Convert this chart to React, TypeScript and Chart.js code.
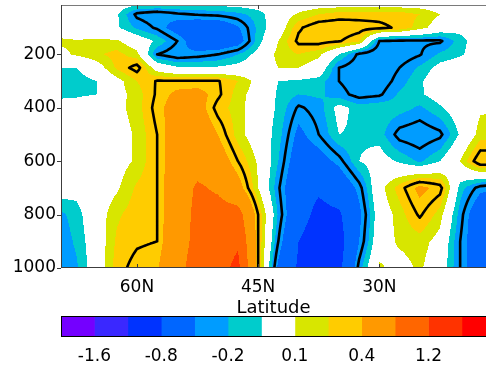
import React, { useEffect, useRef } from "react";
import { Chart, registerables } from "chart.js";

Chart.register(...registerables);

// ---------- DATA ----------
// latitude grid (degrees N), from north (left) to south (right)
const latitudes = [70, 67.5, 65, 62.5, 60, 57.5, 55, 52.5, 50, 47.5, 45, 42.5, 40, 37.5, 35, 32.5, 30, 27.5, 25, 22.5, 20, 17.5, 15];
// pressure levels (hPa)
const pressures = [10, 50, 100, 150, 200, 250, 300, 350, 400, 500, 600, 700, 800, 900, 1000];

// field values along each pressure level (one value per latitude)
const at10 = [0, 0, 0, -0.02, -0.05, -0.06, -0.06, -0.06, -0.05, -0.04, -0.02, 0, 0, 0.02, 0.02, 0.02, 0.02, 0.02, 0.02, 0, 0, 0, 0];
const at50 = [0, 0, 0, -0.08, -0.33, -0.38, -0.32, -0.29, -0.27, -0.23, -0.15, 0, 0.12, 0.2, 0.25, 0.26, 0.26, 0.25, 0.2, 0.1, 0.02, 0, 0];
const at100 = [0, 0, 0, -0.08, -0.22, -0.32, -0.5, -0.58, -0.58, -0.42, -0.17, 0, 0.28, 0.38, 0.38, 0.35, 0.33, 0.28, 0.15, 0.02, -0.05, 0, 0];
const at150 = [0.13, 0.11, 0.12, 0.12, 0, -0.12, -0.3, -0.55, -0.6, -0.5, -0.15, 0.1, 0.33, 0.35, 0.31, 0.22, -0.3, -0.32, -0.32, -0.32, -0.15, 0, 0];
const at200 = [0.05, 0.12, 0.18, 0.24, 0.14, -0.3, -0.38, -0.35, -0.3, -0.2, -0.05, 0.14, 0.2, 0.13, -0.1, -0.33, -0.4, -0.38, -0.31, -0.18, -0.12, -0.02, 0];
const at250 = [-0.1, -0.1, 0.02, 0.22, 0.35, 0.02, -0.08, -0.08, -0.08, -0.05, 0, 0.1, 0.1, 0.02, -0.3, -0.38, -0.4, -0.3, -0.18, -0.05, 0, 0, 0];
const at300 = [-0.15, -0.16, -0.1, 0.05, 0.2, 0.31, 0.31, 0.31, 0.31, 0.2, 0.05, -0.1, -0.12, -0.15, -0.3, -0.38, -0.38, -0.25, -0.12, 0, 0, 0.05, 0.05];
const at350 = [-0.15, -0.13, -0.1, 0.05, 0.15, 0.32, 0.45, 0.48, 0.33, 0.15, 0.03, -0.12, -0.2, -0.18, -0.25, -0.35, -0.32, -0.18, -0.12, -0.03, 0, 0.05, 0.05];
const at400 = [0, 0, 0.05, 0.06, 0.15, 0.35, 0.5, 0.5, 0.25, 0.15, 0, -0.12, -0.32, -0.25, -0.05, -0.15, -0.12, -0.15, -0.22, -0.12, 0, 0.08, 0.1];
const at500 = [0, 0, 0, 0.03, 0.12, 0.3, 0.55, 0.6, 0.4, 0.15, 0, -0.15, -0.45, -0.3, -0.1, -0.12, -0.15, -0.35, -0.39, -0.33, -0.08, 0.15, 0.15];
const at600 = [0, 0, 0, 0.04, 0.12, 0.3, 0.55, 0.65, 0.55, 0.3, 0.08, -0.2, -0.55, -0.5, -0.35, -0.1, -0.03, -0.12, -0.22, -0.1, 0.1, 0.4, 0.4];
const at700 = [0, -0.05, 0, 0.08, 0.22, 0.3, 0.6, 0.85, 0.75, 0.5, 0.1, -0.28, -0.65, -0.75, -0.6, -0.35, 0.05, 0.25, 0.45, 0.35, -0.15, -0.35, -0.4];
const at800 = [-0.25, -0.15, 0.02, 0.18, 0.26, 0.3, 0.6, 0.9, 0.95, 0.95, 0.3, -0.22, -0.65, -0.9, -0.85, -0.45, 0, 0.15, 0.32, 0.15, -0.25, -0.6, -0.65];
const at900 = [-0.29, -0.18, 0, 0.22, 0.28, 0.3, 0.65, 0.9, 1.0, 1.15, 0.3, -0.3, -0.8, -1.0, -0.95, -0.4, 0.03, 0.12, 0.15, 0.05, -0.3, -0.6, -0.65];
const at1000 = [-0.3, -0.22, 0, 0.25, 0.35, 0.38, 0.7, 0.95, 1.05, 1.3, 0.3, -0.45, -0.85, -1.0, -0.9, -0.25, 0.12, 0.05, 0.12, 0, -0.3, -0.6, -0.6];

// contour levels (colour boundaries) and fill colours
const levels = [-1.6, -1.2, -0.8, -0.4, -0.2, -0.1, 0.1, 0.2, 0.4, 0.8, 1.2, 1.6];
const fillColors = ["#7400ff", "#3a28ff", "#0033ff", "#0066ff", "#009cff", "#00cccc", "#ffffff", "#d8e600", "#ffcc00", "#ff9900", "#ff6600", "#ff3300", "#ff0000"];
// black line contours
const lineLevels = [-0.3, 0.3];

// axis ticks
const latTicks = [60, 45, 30];
const pressureTicks = [200, 400, 600, 800, 1000];
// colour bar tick labels (at boundaries index 1,3,5,...)
const colorbarTickIndex = [1, 3, 5, 7, 9, 11];

const field = [at10, at50, at100, at150, at200, at250, at300, at350, at400, at500, at600, at700, at800, at900, at1000];

const FONT = "'DejaVu Sans', 'Liberation Sans', sans-serif";

function hexToRgb(h: string) {
  const n = parseInt(h.slice(1), 16);
  return [(n >> 16) & 255, (n >> 8) & 255, n & 255];
}
const rgbColors = fillColors.map(hexToRgb);

function colorIndex(v: number) {
  let k = 0;
  while (k < levels.length && v >= levels[k]) k++;
  return k;
}

function locateLat(lat: number) {
  let i = 0;
  while (i < latitudes.length - 2 && lat < latitudes[i + 1]) i++;
  let t = (latitudes[i] - lat) / (latitudes[i] - latitudes[i + 1]);
  t = Math.max(0, Math.min(1, t));
  return [i, t];
}
function locateP(p: number) {
  let j = 0;
  while (j < pressures.length - 2 && p > pressures[j + 1]) j++;
  let u = (p - pressures[j]) / (pressures[j + 1] - pressures[j]);
  u = Math.max(0, Math.min(1, u));
  return [j, u];
}
function valueAt(i: number, t: number, j: number, u: number) {
  const a = field[j][i], b = field[j][i + 1], c = field[j + 1][i], d = field[j + 1][i + 1];
  return (1 - t) * (1 - u) * a + t * (1 - u) * b + (1 - t) * u * c + t * u * d;
}

const fieldPlugin = {
  id: "fieldPlugin",
  beforeDatasetsDraw(chart: any) {
    const { ctx, chartArea: a, scales } = chart;
    const xs = scales.x, ys = scales.y;
    const w = Math.round(a.right - a.left), h = Math.round(a.bottom - a.top);
    const off = document.createElement("canvas");
    off.width = w; off.height = h;
    const octx = off.getContext("2d")!;
    const img = octx.createImageData(w, h);
    const ci: number[] = [], ct: number[] = [];
    for (let px = 0; px < w; px++) {
      const [i, t] = locateLat(xs.getValueForPixel(a.left + px + 0.5));
      ci.push(i); ct.push(t);
    }
    const rj: number[] = [], ru: number[] = [];
    for (let py = 0; py < h; py++) {
      const [j, u] = locateP(ys.getValueForPixel(a.top + py + 0.5));
      rj.push(j); ru.push(u);
    }
    for (let py = 0; py < h; py++) {
      for (let px = 0; px < w; px++) {
        const v = valueAt(ci[px], ct[px], rj[py], ru[py]);
        const c = rgbColors[colorIndex(v)];
        const o = (py * w + px) * 4;
        img.data[o] = c[0]; img.data[o + 1] = c[1]; img.data[o + 2] = c[2]; img.data[o + 3] = 255;
      }
    }
    octx.putImageData(img, 0, 0);
    ctx.drawImage(off, a.left, a.top);

    // black contour lines: marching squares on a refined grid
    const S = 6;
    const nX = (latitudes.length - 1) * S + 1;
    const nY = (pressures.length - 1) * S + 1;
    const PX: number[] = [], PY: number[] = [];
    const V: number[][] = [];
    for (let ix = 0; ix < nX; ix++) {
      const i = Math.min(Math.floor(ix / S), latitudes.length - 2);
      const t = (ix - i * S) / S;
      PX.push(xs.getPixelForValue(latitudes[i] + (latitudes[i + 1] - latitudes[i]) * t));
    }
    for (let iy = 0; iy < nY; iy++) {
      const j = Math.min(Math.floor(iy / S), pressures.length - 2);
      const u = (iy - j * S) / S;
      PY.push(ys.getPixelForValue(pressures[j] + (pressures[j + 1] - pressures[j]) * u));
      const row: number[] = [];
      for (let ix = 0; ix < nX; ix++) {
        const i = Math.min(Math.floor(ix / S), latitudes.length - 2);
        const t = (ix - i * S) / S;
        row.push(valueAt(i, t, j, u));
      }
      V.push(row);
    }
    ctx.save();
    ctx.beginPath();
    ctx.rect(a.left, a.top, a.right - a.left, a.bottom - a.top);
    ctx.clip();
    ctx.strokeStyle = "#000";
    ctx.lineWidth = 2.6;
    ctx.lineCap = "round";
    ctx.lineJoin = "round";
    ctx.beginPath();
    for (const lv of lineLevels) {
      for (let iy = 0; iy < nY - 1; iy++) {
        for (let ix = 0; ix < nX - 1; ix++) {
          const v0 = V[iy][ix], v1 = V[iy][ix + 1], v2 = V[iy + 1][ix + 1], v3 = V[iy + 1][ix];
          const x0 = PX[ix], x1 = PX[ix + 1], y0 = PY[iy], y1 = PY[iy + 1];
          const pts: number[][] = [];
          const edge = (va: number, vb: number, xa: number, ya: number, xb: number, yb: number) => {
            if ((va < lv) !== (vb < lv)) {
              const f = (lv - va) / (vb - va);
              pts.push([xa + (xb - xa) * f, ya + (yb - ya) * f]);
            }
          };
          edge(v0, v1, x0, y0, x1, y0);
          edge(v1, v2, x1, y0, x1, y1);
          edge(v3, v2, x0, y1, x1, y1);
          edge(v0, v3, x0, y0, x0, y1);
          if (pts.length === 2) {
            ctx.moveTo(pts[0][0], pts[0][1]); ctx.lineTo(pts[1][0], pts[1][1]);
          } else if (pts.length === 4) {
            const c = (v0 + v1 + v2 + v3) / 4;
            if ((c < lv) === (v0 < lv)) {
              ctx.moveTo(pts[0][0], pts[0][1]); ctx.lineTo(pts[1][0], pts[1][1]);
              ctx.moveTo(pts[2][0], pts[2][1]); ctx.lineTo(pts[3][0], pts[3][1]);
            } else {
              ctx.moveTo(pts[0][0], pts[0][1]); ctx.lineTo(pts[3][0], pts[3][1]);
              ctx.moveTo(pts[1][0], pts[1][1]); ctx.lineTo(pts[2][0], pts[2][1]);
            }
          }
        }
      }
    }
    ctx.stroke();
    ctx.restore();
  },
  afterDraw(chart: any) {
    const { ctx, chartArea: a, scales } = chart;
    ctx.save();
    ctx.lineWidth = 1;
    ctx.strokeStyle = "#7a7a7a";
    ctx.beginPath();
    ctx.moveTo(a.left, a.top + 0.5); ctx.lineTo(a.right, a.top + 0.5);
    ctx.stroke();
    ctx.strokeStyle = "#3c3c3c";
    ctx.beginPath();
    ctx.moveTo(a.left + 0.5, a.top); ctx.lineTo(a.left + 0.5, a.bottom);
    ctx.moveTo(a.left, a.bottom - 0.5); ctx.lineTo(a.right, a.bottom - 0.5);
    for (const p of pressureTicks) {
      const y = Math.round(scales.y.getPixelForValue(p)) + 0.5;
      ctx.moveTo(a.left - 4, y); ctx.lineTo(a.left, y);
    }
    for (const l of latTicks) {
      const x = Math.round(scales.x.getPixelForValue(l)) + 0.5;
      ctx.moveTo(x, a.bottom); ctx.lineTo(x, a.bottom - 4);
      ctx.moveTo(x, a.top); ctx.lineTo(x, a.top + 4);
    }
    ctx.stroke();
    ctx.restore();
  },
};

const colorbarFrame = {
  id: "colorbarFrame",
  afterDraw(chart: any) {
    const { ctx, chartArea: a } = chart;
    ctx.save();
    ctx.strokeStyle = "#000";
    ctx.lineWidth = 1;
    ctx.strokeRect(a.left + 0.5, a.top + 0.5, a.right - a.left + 10, a.bottom - a.top - 1);
    ctx.restore();
  },
};

export default function App() {
  const mainRef = useRef<HTMLCanvasElement>(null);
  const barRef = useRef<HTMLCanvasElement>(null);

  useEffect(() => {
    Chart.defaults.font.family = FONT;
    Chart.defaults.color = "#000";

    const main = new Chart(mainRef.current!, {
      type: "scatter",
      data: { datasets: [{ data: [] }] },
      options: {
        responsive: false,
        animation: false,
        layout: { padding: { top: 5, left: 0, right: 0, bottom: 0 } },
        plugins: { legend: { display: false }, tooltip: { enabled: false } },
        scales: {
          x: {
            type: "linear",
            reverse: true,
            min: 16.8,
            max: 69.4,
            grid: { display: false, drawTicks: false },
            border: { display: false },
            afterBuildTicks: (s: any) => { s.ticks = latTicks.map((v) => ({ value: v })); },
            afterFit: (s: any) => { s.height = 52; s.paddingLeft = 0; s.paddingRight = 0; },
            ticks: { padding: 9, font: { size: 17 }, color: "#000", maxRotation: 0, callback: (v: any) => v + "N" },
            title: { display: true, text: "Latitude", font: { size: 18, lineHeight: 1 }, color: "#000", padding: { top: 0, bottom: 3 } },
          },
          y: {
            type: "linear",
            reverse: true,
            min: 15,
            max: 1000,
            grid: { display: false, drawTicks: false },
            border: { display: false },
            afterBuildTicks: (s: any) => { s.ticks = pressureTicks.map((v) => ({ value: v })); },
            afterFit: (s: any) => { s.width = 61; s.paddingTop = 0; s.paddingBottom = 0; },
            ticks: { padding: 5, font: { size: 17 }, color: "#000", callback: (v: any) => String(v) },
          },
        },
      },
      plugins: [fieldPlugin],
    });

    const cbDatasets = fillColors.map((c) => ({
      data: [1],
      backgroundColor: c,
      borderWidth: 0,
      barPercentage: 1,
      categoryPercentage: 1,
    }));
    const bar = new Chart(barRef.current!, {
      type: "bar",
      data: { labels: ["scale"], datasets: cbDatasets },
      options: {
        responsive: false,
        animation: false,
        indexAxis: "y",
        layout: { padding: { top: 6, left: 61, right: 0, bottom: 0 } },
        plugins: { legend: { display: false }, tooltip: { enabled: false } },
        scales: {
          x: {
            type: "linear",
            stacked: true,
            min: 0,
            max: 12.72,
            grid: { display: false, drawTicks: false },
            border: { display: false },
            afterBuildTicks: (s: any) => { s.ticks = colorbarTickIndex.map((v) => ({ value: v })); },
            afterFit: (s: any) => { s.height = 36; s.paddingLeft = 0; s.paddingRight = 0; },
            ticks: { padding: 9, font: { size: 17 }, color: "#000", maxRotation: 0, callback: (v: any) => String(levels[v - 1]) },
          },
          y: { stacked: true, display: false },
        },
      },
      plugins: [colorbarFrame],
    });

    return () => { main.destroy(); bar.destroy(); };
  }, []);

  return (
    <div style={{ position: "fixed", left: 0, top: 0, width: 486, height: 373, background: "#fff", overflow: "hidden" }}>
      <canvas ref={mainRef} width={486} height={320} style={{ position: "absolute", left: 0, top: 0, width: 486, height: 320 }} />
      <canvas ref={barRef} width={486} height={63} style={{ position: "absolute", left: 0, top: 310, width: 486, height: 63 }} />
    </div>
  );
}
